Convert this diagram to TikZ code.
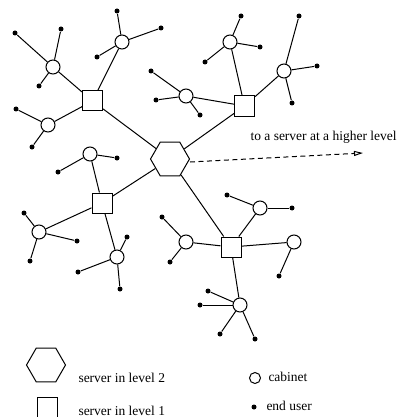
\documentclass[tikz,border=0pt]{standalone}
\usepackage{fontspec}
\setmainfont{Liberation Serif}
\usetikzlibrary{shapes.geometric,arrows.meta}
\begin{document}
\begin{tikzpicture}[x=1pt,y=-1pt,line width=1pt,
  hexnode/.style={draw,regular polygon,regular polygon sides=6,minimum size=39pt,inner sep=0pt,fill=white},
  sqnode/.style={draw,rectangle,minimum size=20pt,inner sep=0pt,fill=white},
  cab/.style={draw,circle,minimum size=14pt,inner sep=0pt,fill=white},
  legcab/.style={draw,circle,minimum size=11pt,inner sep=0pt,fill=white},
  usr/.style={circle,fill=black,minimum size=5pt,inner sep=0pt},
  lbl/.style={font=\fontsize{13.5}{16}\selectfont,inner sep=0pt}]
\clip (0,0) rectangle (398,417);
% servers
\node[hexnode] (H) at (170,159) {};
\node[sqnode] (S1) at (92.5,101) {};
\node[sqnode] (S2) at (244.5,106) {};
\node[sqnode] (S3) at (102,203) {};
\node[sqnode] (S4) at (231,247) {};
\foreach \s in {S1,S2,S3,S4} \draw (H) -- (\s);
% cabinets
\foreach \n/\x/\y/\s in {c11/53/67/S1, c12/122/42/S1, c13/48/125/S1,
  c21/230/42/S2, c22/284/71/S2, c23/186/96/S2,
  c31/90/154/S3, c32/39/232/S3, c33/117/257/S3,
  c41/260/208/S4, c42/294/242/S4, c43/240/305/S4, c44/186/242/S4}
{ \node[cab] (\n) at (\x,\y) {}; \draw (\s) -- (\n); }
% end users
\foreach \c/\x/\y [count=\i] in {c11/15/33, c11/61/29, c11/39/86,
  c12/117/11, c12/161/28, c12/97/57,
  c13/16/109, c13/32/147,
  c21/241/16, c21/260/47, c21/205/62,
  c22/299/16, c22/317/66, c22/292/103,
  c23/151/71, c23/156/100, c23/200/115,
  c31/117/158, c31/58/172,
  c32/24/213, c32/77/241, c32/30/261,
  c33/127/237, c33/78/272, c33/120/289,
  c41/227/195, c41/292/208,
  c42/279/276,
  c43/208/291, c43/200/305, c43/220/334, c43/255/339,
  c44/162/217, c44/170/262}
{ \node[usr] (u\i) at (\x,\y) {}; \draw (\c) -- (u\i); }
% link to higher level
\coordinate (dstart) at (190,162);
\coordinate (dend) at (363,153);
\draw[dash pattern=on 5pt off 3.5pt,-{Triangle[open,length=9pt,width=5pt]}] (dstart) -- (dend);
\node[lbl,anchor=base west] (tlab) at (250,140) {to a server at a higher level};
% legend
\node[hexnode] (LH) at (46,365) {};
\node[lbl,anchor=base west] (LHt) at (78,382) {server in level 2};
\node[sqnode] (LS) at (47.5,407) {};
\node[lbl,anchor=base west] (LSt) at (78,415.5) {server in level 1};
\node[legcab] (LC) at (255,378) {};
\node[lbl,anchor=base west] (LCt) at (268,381.5) {cabinet};
\node[usr] (LU) at (254,407) {};
\node[lbl,anchor=base west] (LUt) at (266,410) {end user};
\end{tikzpicture}
\end{document}
